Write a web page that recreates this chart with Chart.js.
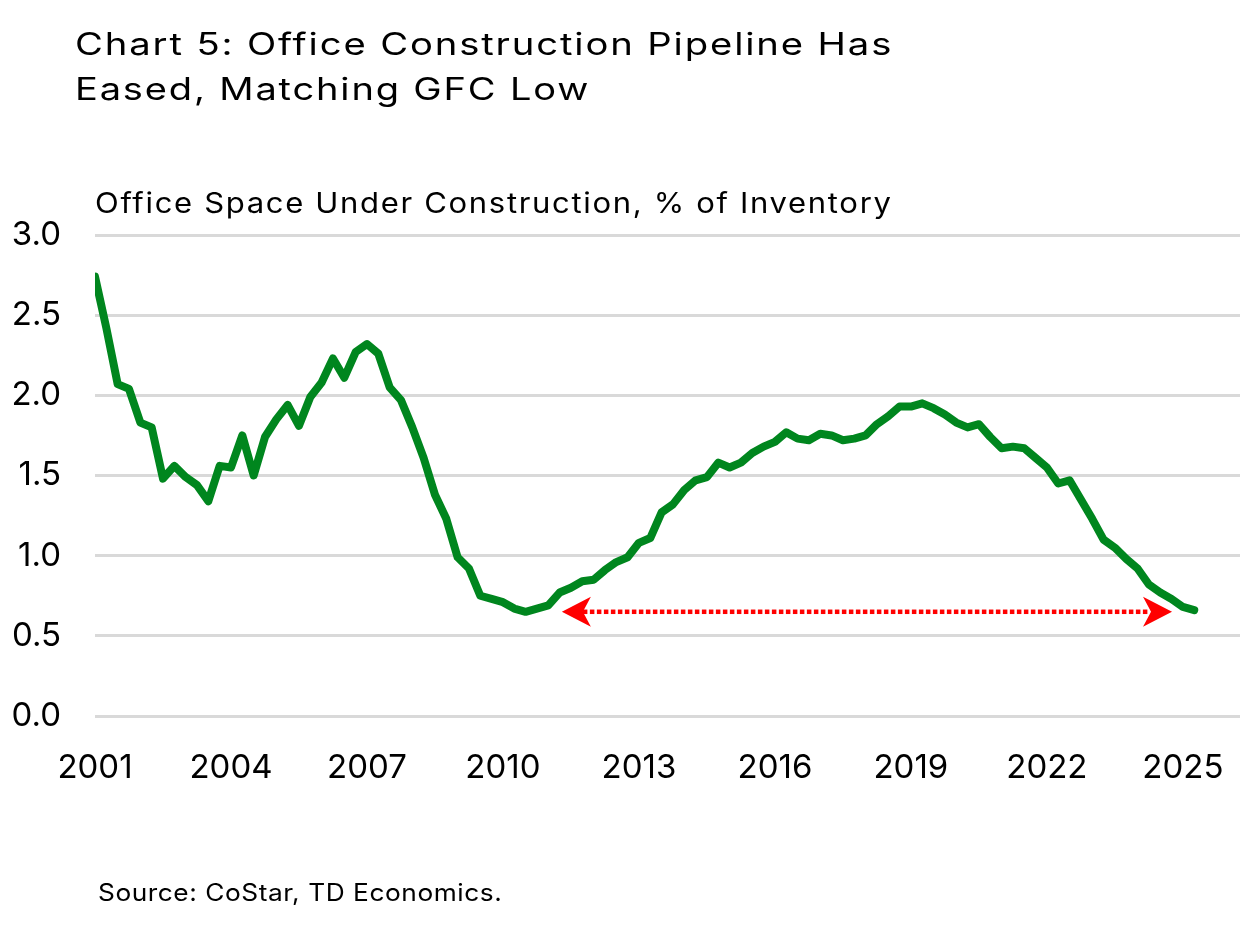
<!DOCTYPE html>
<html>
<head>
<meta charset="utf-8">
<script src="https://cdn.jsdelivr.net/npm/chart.js@4.4.1/dist/chart.umd.min.js"></script>
<style>
  html, body { margin: 0; padding: 0; background: #fff; }
  body { width: 1240px; height: 925px; position: relative; overflow: hidden; font-family: "Inter", sans-serif; color: #000; }
  .txt { position: absolute; display: block; white-space: nowrap; transform-origin: 0 50%; letter-spacing: 1.5px; }
  #t1 { left: 75px; top: 21px; font-size: 31px; line-height: 45px; }
  #t2 { left: 75px; top: 66px; font-size: 31px; line-height: 45px; }
  #subtitle { left: 95px; top: 183px; font-size: 28px; line-height: 40px; }
  #source { left: 98px; top: 877px; font-size: 24px; line-height: 32px; letter-spacing: 0.5px; }
  #wrap { position: absolute; left: 0; top: 0; width: 1240px; height: 925px; }
</style>
</head>
<body>
<div id="wrap"><canvas id="chart"></canvas></div>
<span class="txt" id="t1" data-w="818">Chart 5: Office Construction Pipeline Has</span>
<span class="txt" id="t2" data-w="515">Eased, Matching GFC Low</span>
<span class="txt" id="subtitle" data-w="798">Office Space Under Construction, % of Inventory</span>
<span class="txt" id="source" data-w="404">Source: CoStar, TD Economics.</span>
<script>
// quarterly, 2001 Q1 -> 2025 Q2
const firstYear = 2001;
const underConstruction = [
  2.74, 2.42, 2.07, 2.04, 1.83, 1.80, 1.48, 1.56, 1.49, 1.44,
  1.34, 1.56, 1.55, 1.75, 1.50, 1.74, 1.85, 1.94, 1.81, 1.99,
  2.08, 2.23, 2.11, 2.27, 2.32, 2.26, 2.05, 1.97, 1.80, 1.61,
  1.38, 1.23, 0.99, 0.92, 0.75, 0.73, 0.71, 0.67, 0.65, 0.67,
  0.69, 0.77, 0.80, 0.84, 0.85, 0.91, 0.96, 0.99, 1.08, 1.11,
  1.27, 1.32, 1.41, 1.47, 1.49, 1.58, 1.55, 1.58, 1.64, 1.68,
  1.71, 1.77, 1.73, 1.72, 1.76, 1.75, 1.72, 1.73, 1.75, 1.82,
  1.87, 1.93, 1.93, 1.95, 1.92, 1.88, 1.83, 1.80, 1.82, 1.74,
  1.67, 1.68, 1.67, 1.61, 1.55, 1.45, 1.47, 1.35, 1.23, 1.10,
  1.05, 0.98, 0.92, 0.82, 0.77, 0.73, 0.68, 0.66
];
const yearTicks = [2001, 2004, 2007, 2010, 2013, 2016, 2019, 2022, 2025];
const valueTicks = [0, 0.5, 1, 1.5, 2, 2.5, 3];
// red double arrow: from / to (year), level (%)
const arrowFrom = 2011.3;
const arrowTo = 2024.76;
const arrowLevel = 0.65;

const points = underConstruction.map((v, i) => ({ x: firstYear + i / 4, y: v }));

// stretch the html texts to the reference widths (font is wider there)
// offsetWidth ignores transforms, so this can run twice safely
function fitTexts() {
  document.querySelectorAll(".txt").forEach((el) => {
    const w = el.offsetWidth;
    const target = Number(el.dataset.w);
    if (w > 0) el.style.transform = "scaleX(" + (target / w) + ")";
  });
}
fitTexts();
if (document.fonts) document.fonts.ready.then(fitTexts);

// dotted double-headed arrow
const arrowPlugin = {
  id: "gfcArrow",
  afterDatasetsDraw(chart) {
    const { ctx, scales } = chart;
    const x1 = scales.x.getPixelForValue(arrowFrom);
    const x2 = scales.x.getPixelForValue(arrowTo);
    const y = scales.y.getPixelForValue(arrowLevel);
    ctx.save();
    ctx.fillStyle = "#ff0000";
    // dots
    for (let x = x1 + 21; x < x2 - 24; x += 7) {
      ctx.fillRect(x, y - 2.25, 4.5, 4.5);
    }
    // heads
    const head = (tip, dir) => {
      ctx.beginPath();
      ctx.moveTo(tip, y);
      ctx.lineTo(tip + dir * 29, y - 15);
      ctx.lineTo(tip + dir * 21, y);
      ctx.lineTo(tip + dir * 29, y + 15);
      ctx.closePath();
      ctx.fill();
    };
    head(x1, 1);
    head(x2, -1);
    ctx.restore();
  }
};

new Chart(document.getElementById("chart"), {
  type: "line",
  data: {
    datasets: [{
      data: points,
      borderColor: "#00861e",
      borderWidth: 8,
      pointRadius: 0,
      borderCapStyle: "round",
      borderJoinStyle: "round",
      tension: 0
    }]
  },
  options: {
    responsive: true,
    maintainAspectRatio: false,
    animation: false,
    layout: { padding: { top: 235, left: 0, right: 0, bottom: 0 } },
    plugins: { legend: { display: false }, tooltip: { enabled: false } },
    scales: {
      x: {
        type: "linear",
        min: 2001,
        max: 2026.26,
        afterBuildTicks: (axis) => { axis.ticks = yearTicks.map(v => ({ value: v })); },
        afterFit: (axis) => { axis.height = 209; axis.paddingLeft = 0; axis.paddingRight = 0; },
        grid: { display: false, drawTicks: false },
        border: { display: false },
        ticks: {
          padding: 32,
          maxRotation: 0,
          autoSkip: false,
          color: "#000",
          font: { family: "Inter", size: 33 },
          callback: (v) => String(v)
        }
      },
      y: {
        min: 0,
        max: 3,
        afterBuildTicks: (axis) => { axis.ticks = valueTicks.map(v => ({ value: v })); },
        afterFit: (axis) => { axis.width = 95; },
        grid: { color: "#d9d9d9", lineWidth: 3, drawTicks: false },
        border: { display: false },
        ticks: {
          padding: 34,
          color: "#000",
          font: { family: "Inter", size: 33 },
          callback: (v) => v.toFixed(1)
        }
      }
    }
  },
  plugins: [arrowPlugin]
});
</script>
</body>
</html>
